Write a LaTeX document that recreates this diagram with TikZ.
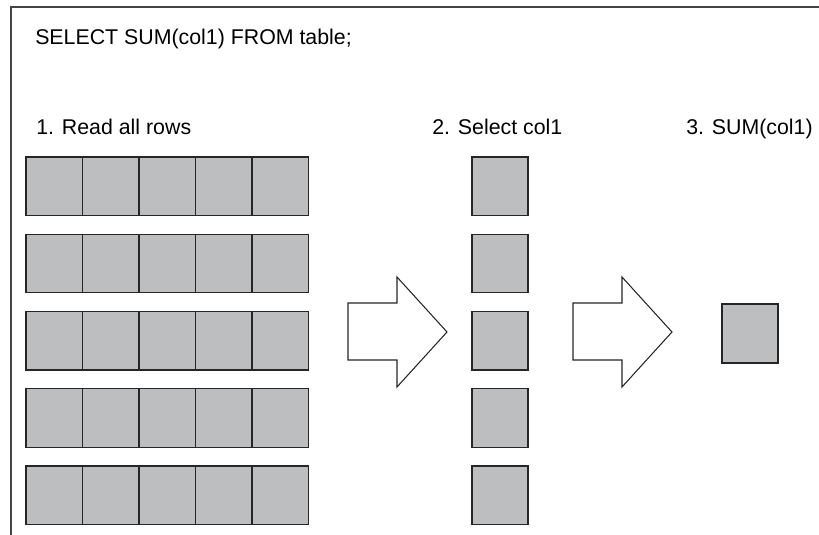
\documentclass[tikz,border=0pt]{standalone}
\usepackage{fontspec}
\setmainfont{Liberation Sans}

\definecolor{cellgray}{HTML}{BDBEC0}
\definecolor{framegray}{HTML}{444444}

\tikzset{
  cell/.style={fill=cellgray, draw=black!85, line width=1pt},
  txt/.style={anchor=base west, inner sep=0pt, font=\fontsize{16}{19}\selectfont},
  fatarrow/.style={draw=black!85, fill=white, line width=0.8pt, line join=miter},
  frame/.style={draw=framegray, line width=1.2pt}
}

\begin{document}
\begin{tikzpicture}[x=0.75pt,y=-0.75pt]

\useasboundingbox (0,0) rectangle (819,535);

\draw[frame] (11,535) -- (11,7) -- (819,7);

\node[txt] (query) at (35,45) {SELECT SUM(col1) FROM table;};
\node[txt] (readall) at (36,135) {1. Read all rows};
\node[txt] (selcol) at (432,135) {2. Select col1};
\node[txt] (sumcol) at (686,135) {3. SUM(col1)};

% full table, 5 rows of 5 columns
\foreach \r in {0,...,4}
  \foreach \c in {0,...,4}
    \draw[cell] (26+56.5*\c,157+77.25*\r) rectangle ++(56.5,58.5);

% the one column that is kept
\foreach \r in {0,...,4}
  \draw[cell] (472,157+77.25*\r) rectangle ++(56,58.5);

% the sum
\draw[cell] (722,304) rectangle (778,363);

% block arrows between the steps
\foreach \s in {348,573}
  \draw[fatarrow] (\s,303) -- (\s+49,303) -- (\s+49,277) -- (\s+99,332)
    -- (\s+49,387) -- (\s+49,360) -- (\s,360) -- cycle;

\end{tikzpicture}
\end{document}
